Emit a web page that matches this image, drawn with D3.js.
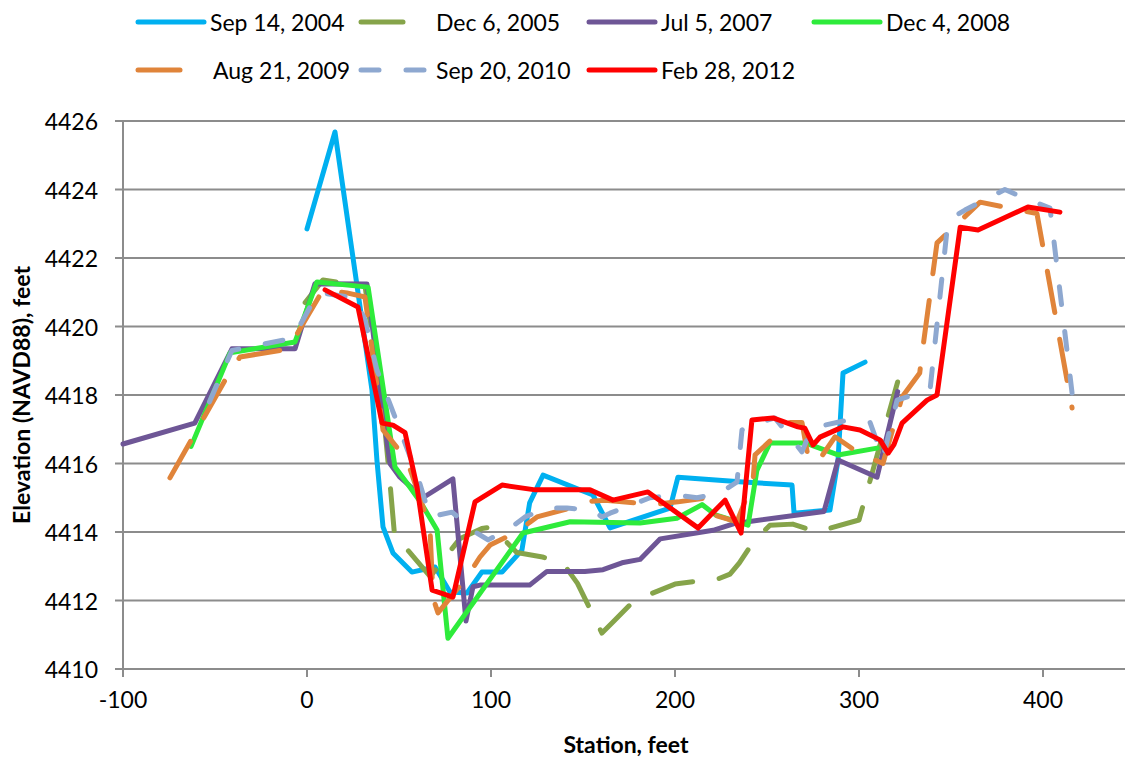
<!DOCTYPE html>
<html>
<head>
<meta charset="utf-8">
<script src="https://cdn.jsdelivr.net/npm/d3@7"></script>
<style>
  body { margin: 0; background: #fff; }
  text { font-family: Lato, "Open Sans", sans-serif; fill: #000; }
</style>
</head>
<body>
<div id="chart"></div>
<script>
// Survey data: [station (ft), elevation (ft)]
const sep2004 = [[0,4422.85],[15.2,4425.68],[35.3,4418.15],[38,4416.1],[41.3,4414.15],[46.7,4413.39],[57,4412.83],[69.6,4412.98],[77.7,4412.25],[87,4412.22],[95,4412.83],[106,4412.83],[116.8,4413.47],[121,4414.85],[128.3,4415.66],[155.4,4415.08],[164.7,4414.12],[197.3,4414.7],[201.6,4415.6],[237,4415.46],[263.6,4415.37],[264.7,4414.55],[284.2,4414.64],[288.6,4416.1],[291.3,4418.64],[303.3,4418.96]];
const dec2005 = [[-1,4420.7],[8.7,4421.36],[19.6,4421.27],[31.5,4421.2],[42.4,4416.98],[45,4415.5],[47.8,4413.77],[53.3,4413.56],[67,4412.7],[83,4413.8],[95,4414.1],[100.5,4414.15],[114,4413.4],[128,4413.27],[139,4413.1],[147,4412.5],[160.3,4411.05],[166.3,4411.37],[176.6,4411.93],[182.6,4412.1],[200,4412.48],[212.5,4412.57],[220.7,4412.57],[229.9,4412.77],[235,4413.1],[242.4,4413.7],[251.6,4414.2],[264,4414.23],[277,4414.0],[300,4414.35],[321,4418.38]];
const jul2007 = [[-100,4416.57],[-61,4417.18],[-40.8,4419.35],[-6.5,4419.35],[4.3,4421.25],[32.6,4421.24],[43.5,4416.6],[45.1,4416.0],[50.5,4415.6],[63,4415.0],[79.3,4415.55],[86.4,4411.4],[90.2,4412.4],[94,4412.45],[121,4412.45],[130.4,4412.85],[151,4412.85],[160.9,4412.9],[171.2,4413.1],[181,4413.2],[192,4413.8],[220.7,4414.05],[232.6,4414.25],[281,4414.6],[288.6,4416.1],[309.8,4415.6],[321,4418.1]];
const dec2008 = [[-63,4416.5],[-41.8,4419.23],[-6.5,4419.55],[5.4,4421.3],[33.2,4421.15],[47.8,4415.9],[54.3,4415.43],[61.4,4414.9],[70.7,4414.06],[76.6,4410.9],[117.4,4413.97],[143,4414.3],[181,4414.26],[201,4414.4],[214.7,4414.8],[222,4414.5],[239.7,4414.2],[244.5,4415.8],[251.6,4416.6],[270.7,4416.6],[288.6,4416.25],[309.8,4416.45]];
const aug2009 = [[-74.5,4415.58],[-43,4418.58],[-36.4,4419.11],[-10.3,4419.34],[8.7,4421.07],[21.7,4420.98],[31.5,4420.86],[41.3,4416.98],[54.3,4416.1],[66.8,4414.15],[68.5,4412.07],[71.2,4411.64],[87,4412.69],[94,4413.27],[99.5,4413.62],[114,4414.0],[125,4414.44],[143,4414.7],[149.5,4414.88],[162,4414.93],[188,4414.8],[201.6,4414.88],[217.4,4415.0],[220.7,4414.5],[233.7,4414.3],[242.4,4415.5],[243.5,4416.25],[262.5,4417.2],[269,4417.2],[272.3,4416.2],[277,4416.0],[287,4416.78],[298.9,4416.34],[313,4416.0],[323.4,4417.94],[333,4418.64],[334,4419.1],[342.4,4422.44],[353.8,4423.02],[365.8,4423.63],[396.7,4423.3],[415.8,4417.62]];
const sep2010 = [[-53,4417.8],[-40.8,4419.3],[-7.6,4419.66],[6,4421.0],[26,4420.83],[31.5,4420.2],[38,4418.73],[50.5,4416.98],[60.3,4415.6],[66.8,4414.44],[78.8,4414.58],[92.4,4413.97],[98.4,4413.77],[109,4414.06],[118.5,4414.44],[130.4,4414.7],[141.3,4414.7],[155,4414.64],[160.3,4414.44],[164.7,4414.55],[186.4,4415.0],[201,4415.08],[212,4415.0],[224.5,4415.14],[233.7,4415.46],[236.4,4416.98],[244.6,4417.18],[254.3,4417.33],[269,4416.34],[273.4,4416.92],[281.5,4417.12],[294,4417.27],[306,4417.2],[313,4416.16],[320.7,4417.85],[338.6,4418.15],[348.4,4423.1],[357.6,4423.4],[379.3,4424.0],[392,4423.7],[403.8,4423.46],[415.8,4418.06]];
const feb2012 = [[9.8,4421.07],[27.7,4420.57],[40.8,4417.18],[46.7,4417.12],[53.3,4416.9],[59.8,4415.31],[68,4412.3],[79.3,4412.1],[91.3,4414.88],[106,4415.37],[124,4415.23],[153.8,4415.23],[166.3,4414.93],[185.3,4415.17],[212.5,4414.12],[227.2,4414.93],[235.9,4413.97],[241.8,4417.27],[253.3,4417.33],[266.8,4417.07],[270.6,4417.03],[275,4416.54],[278.8,4416.77],[291.3,4417.07],[300.5,4416.98],[311.4,4416.69],[315.8,4416.3],[319,4416.55],[323.4,4417.18],[337,4417.85],[342.4,4418.0],[355,4422.9],[364.7,4422.82],[391.8,4423.49],[409.2,4423.34]];

const seriesNames = ["Sep 14, 2004","Dec 6, 2005","Jul 5, 2007","Dec 4, 2008","Aug 21, 2009","Sep 20, 2010","Feb 28, 2012"];
const xTicks = [-100, 0, 100, 200, 300, 400];
const yTicks = [4410, 4412, 4414, 4416, 4418, 4420, 4422, 4424, 4426];

// Line styles for each series, in drawing order
const series = [
    {name: seriesNames[0], data: sep2004, color: "#00B0F0", dash: null},
    {name: seriesNames[1], data: dec2005, color: "#86A44A", dash: "42,27"},
    {name: seriesNames[2], data: jul2007, color: "#6E5696", dash: null},
    {name: seriesNames[3], data: dec2008, color: "#2EEB3B", dash: null},
    {name: seriesNames[4], data: aug2009, color: "#E0843A", dash: "42,27"},
    {name: seriesNames[5], data: sep2010, color: "#8EA8D0", dash: "18,27"},
    {name: seriesNames[6], data: feb2012, color: "#FF0000", dash: null}
];

const W = 1125, H = 759;
const plotLeft = 123, plotTop = 121, plotBottom = 669;

const svg = d3.select("#chart")
    .append("svg")
    .attr("width", W)
    .attr("height", H);

// Scales: 100 ft per 184 px, plot runs off the right edge like the original
const x = d3.scaleLinear().domain([-100, 500]).range([plotLeft, plotLeft + 600 * 1.84]);
const y = d3.scaleLinear().domain([4410, 4426]).range([plotBottom, plotTop]);

// Horizontal gridlines
svg.append("g")
    .selectAll("line")
    .data(yTicks)
    .join("line")
    .attr("x1", plotLeft - 8)
    .attr("x2", W)
    .attr("y1", d => y(d))
    .attr("y2", d => y(d))
    .attr("stroke", "#8c8c8c")
    .attr("stroke-width", 2);

// Y axis line
svg.append("line")
    .attr("x1", plotLeft).attr("x2", plotLeft)
    .attr("y1", plotTop).attr("y2", plotBottom)
    .attr("stroke", "#8c8c8c")
    .attr("stroke-width", 2);

// X axis tick marks
svg.append("g")
    .selectAll("line")
    .data(xTicks)
    .join("line")
    .attr("x1", d => x(d)).attr("x2", d => x(d))
    .attr("y1", plotBottom).attr("y2", plotBottom + 8)
    .attr("stroke", "#8c8c8c")
    .attr("stroke-width", 2);

// Tick labels
svg.append("g")
    .selectAll("text")
    .data(yTicks)
    .join("text")
    .attr("x", 98)
    .attr("y", d => y(d))
    .attr("text-anchor", "end")
    .attr("dominant-baseline", "central")
    .style("font-size", "23px")
    .text(d => d);

svg.append("g")
    .selectAll("text")
    .data(xTicks)
    .join("text")
    .attr("x", d => x(d))
    .attr("y", 708)
    .attr("text-anchor", "middle")
    .style("font-size", "23px")
    .text(d => d);

// Axis titles
svg.append("text")
    .attr("x", 626)
    .attr("y", 753)
    .attr("text-anchor", "middle")
    .style("font-size", "23px")
    .style("font-weight", "bold")
    .text("Station, feet");

svg.append("text")
    .attr("transform", `translate(30, ${(plotTop + plotBottom) / 2}) rotate(-90)`)
    .attr("text-anchor", "middle")
    .style("font-size", "23px")
    .style("font-weight", "bold")
    .text("Elevation (NAVD88), feet");

// Series lines
const line = d3.line()
    .x(d => x(d[0]))
    .y(d => y(d[1]));

svg.append("g")
    .selectAll("path")
    .data(series)
    .join("path")
    .attr("d", d => line(d.data))
    .attr("fill", "none")
    .attr("stroke", d => d.color)
    .attr("stroke-width", 5)
    .attr("stroke-linejoin", "round")
    .attr("stroke-linecap", "round")
    .attr("stroke-dasharray", d => d.dash);

// Legend, two rows
const legendPos = [[136, 22], [359, 22], [587, 22], [812, 22], [136, 70], [359, 70], [587, 70]];
const legend = svg.append("g")
    .selectAll("g")
    .data(series)
    .join("g")
    .attr("transform", (d, i) => `translate(${legendPos[i][0]}, ${legendPos[i][1]})`);

legend.append("line")
    .attr("x1", 2).attr("x2", 68)
    .attr("y1", 0).attr("y2", 0)
    .attr("stroke", d => d.color)
    .attr("stroke-width", 5)
    .attr("stroke-linecap", "round")
    .attr("stroke-dasharray", d => d.dash);

legend.append("text")
    .attr("x", (d, i) => i === 1 || i === 4 || i === 5 ? 77 : 74)
    .attr("y", 0)
    .attr("dominant-baseline", "central")
    .style("font-size", "23px")
    .text(d => d.name);
</script>
</body>
</html>
